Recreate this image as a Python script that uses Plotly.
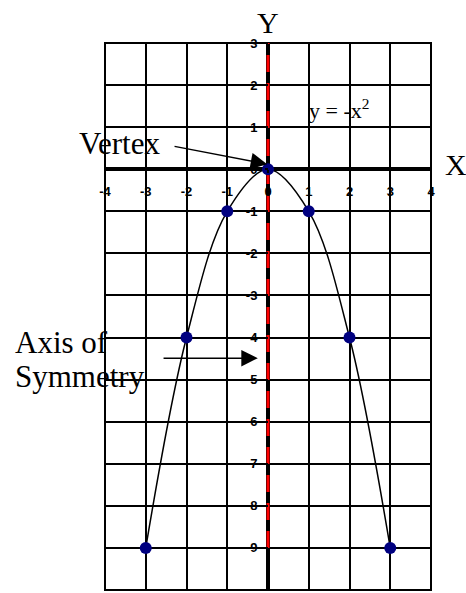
import plotly.graph_objects as go

# Data
x_vals = [-3, -2, -1, 0, 1, 2, 3]
y_vals = [-9, -4, -1, 0, -1, -4, -9]
sym_x = [0, 0]
sym_y = [-9, 3]
x_ticks = [-4, -3, -2, -1, 0, 1, 2, 3, 4]
x_tick_labels = ["-4", "-3", "-2", "-1", "0", "1", "2", "3", "4"]
y_ticks = [3, 2, 1, 0, -1, -2, -3, -4, -5, -6, -7, -8, -9, -10]
y_tick_labels = ["3", "2", "1", "0", "-1", "-2", "-3", "-4", "-5", "-6", "-7", "-8", "-9", "-10"]

fig = go.Figure()

fig.add_trace(go.Scatter(
    x=sym_x, y=sym_y, mode="lines",
    line=dict(color="#ff0000", width=3, dash="17px,11px"),
    hoverinfo="skip", showlegend=False))

fig.add_trace(go.Scatter(
    x=x_vals, y=y_vals, mode="lines+markers",
    line=dict(color="black", width=1.5, shape="spline", smoothing=1),
    marker=dict(color="#000080", size=12),
    showlegend=False, cliponaxis=False))

serif = "Liberation Serif, Times New Roman, serif"
big = dict(family=serif, size=31, color="black")

annotations = [
    dict(xref="paper", yref="paper", x=0.5, y=1.0366, text="Y", showarrow=False,
         xanchor="center", yanchor="middle", font=dict(family=serif, size=30, color="black")),
    dict(xref="paper", yref="paper", x=1.0767, y=0.777, text="X", showarrow=False,
         xanchor="center", yanchor="middle", font=dict(family=serif, size=30, color="black")),
    dict(x=-3.64, y=0.62, text="Vertex", showarrow=False, font=big,
         xanchor="center", yanchor="middle"),
    dict(xref="paper", yref="paper", x=-0.282, y=0.4516, text="Axis of", showarrow=False,
         xanchor="left", yanchor="middle", font=big),
    dict(xref="paper", yref="paper", x=-0.282, y=0.3912, text="Symmetry", showarrow=False,
         xanchor="left", yanchor="middle", font=big),
    dict(x=1.74, y=1.42, text="y = -x<sup>2</sup>", showarrow=False,
         xanchor="center", yanchor="middle", font=dict(family=serif, size=22, color="black")),
    # arrows
    dict(x=-0.02, y=0.12, ax=-2.33, ay=0.55, axref="x", ayref="y", text="",
         showarrow=True, arrowhead=2, arrowsize=2.2, arrowwidth=1.5, arrowcolor="black"),
    dict(x=-0.25, y=-4.49, ax=-2.6, ay=-4.49, axref="x", ayref="y", text="",
         showarrow=True, arrowhead=2, arrowsize=2.2, arrowwidth=1.5, arrowcolor="black"),
]

tickfont = dict(family="Liberation Sans, Arial, sans-serif", size=13, color="black", weight="bold")

fig.update_layout(
    width=466, height=593,
    margin=dict(l=105, r=35, t=43, b=3),
    paper_bgcolor="white", plot_bgcolor="white",
    annotations=annotations,
    shapes=[dict(type="rect", xref="paper", yref="paper", x0=0, y0=0, x1=1, y1=1,
                 line=dict(color="black", width=2), layer="below")],
    xaxis=dict(
        range=[-4, 4], tickvals=x_ticks, ticktext=x_tick_labels,
        showgrid=True, gridcolor="black", gridwidth=2,
        zeroline=True, zerolinecolor="black", zerolinewidth=4,
        showline=False, anchor="free", position=10/13,
        ticks="outside", ticklen=3, tickwidth=2, tickcolor="black",
        tickfont=tickfont, ticklabelstandoff=7, fixedrange=True),
    yaxis=dict(
        range=[-10, 3], tickvals=y_ticks, ticktext=y_tick_labels,
        showgrid=True, gridcolor="black", gridwidth=2,
        zeroline=True, zerolinecolor="black", zerolinewidth=4,
        showline=False, anchor="free", position=0.5,
        ticks="outside", ticklen=3, tickwidth=2, tickcolor="black",
        tickfont=tickfont, ticklabelstandoff=5, fixedrange=True),
)

fig.write_html("out.html", config={"displayModeBar": False},
               post_script="document.body.style.margin='0';")
